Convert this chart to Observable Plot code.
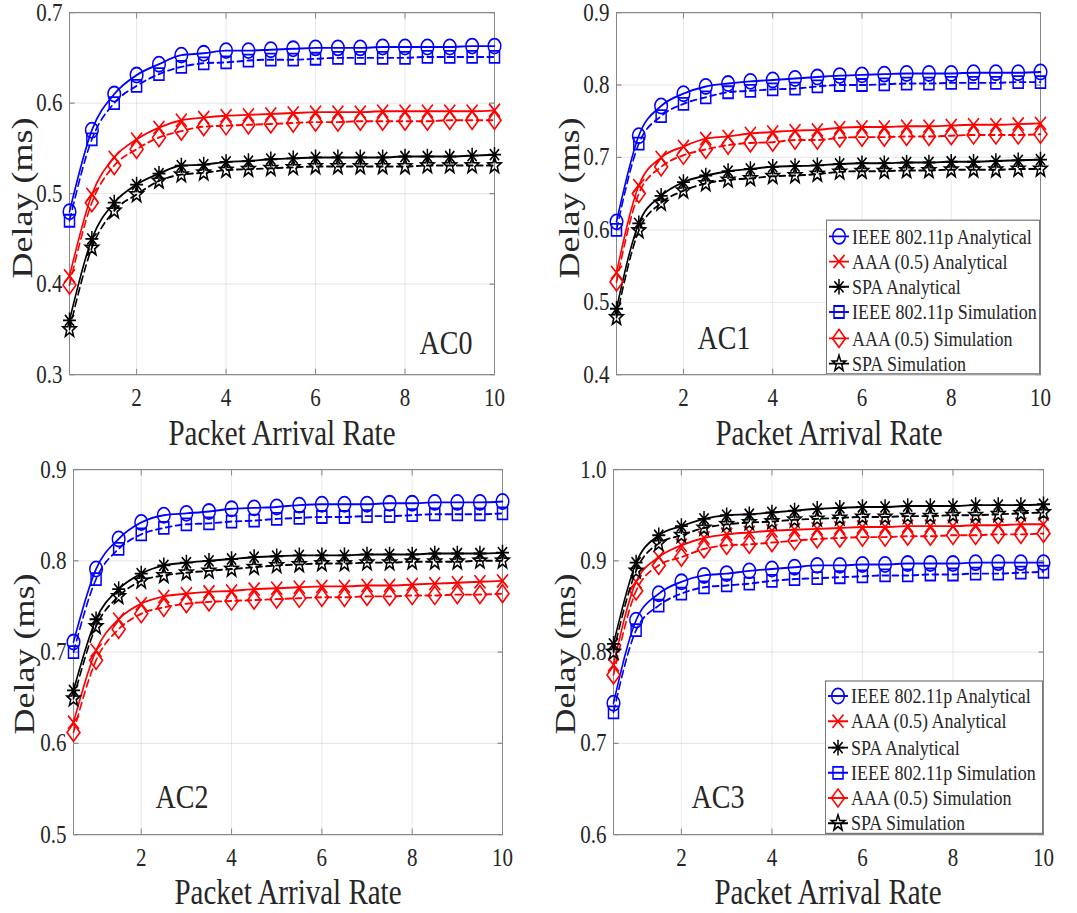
<!DOCTYPE html>
<html><head><meta charset="utf-8">
<script src="https://cdn.jsdelivr.net/npm/d3@7"></script>
<script src="https://cdn.jsdelivr.net/npm/@observablehq/plot@0.6"></script>
<style>
html,body{margin:0;padding:0;background:#fff;}
#fig{position:absolute;left:0;top:0;width:1077px;height:761px;transform:scaleY(1.2);transform-origin:0 0;font-family:"Liberation Serif","Times New Roman",serif;color:#262626;}
.panel{position:absolute;}
#fig svg text{font-family:"Liberation Serif","Times New Roman",serif;font-size:21px;}
.lbl{position:absolute;white-space:nowrap;transform:translate(-50%,-50%);line-height:1;font-family:"Liberation Serif","Times New Roman",serif;}
.xl{font-size:29px;}
.yl{font-size:30px;transform:translate(-50%,-50%) rotate(-90deg);}
.ac{font-size:28px;}
.legend{position:absolute;background:#fff;border:1px solid #777;box-sizing:border-box;}
.row{position:absolute;left:0;height:20px;display:flex;align-items:center;font-size:18px;white-space:nowrap;line-height:1;font-family:"Liberation Serif","Times New Roman",serif;}
.row svg{flex:none;}
</style></head>
<body><div id="fig"></div>
<script>
// ---------- data ----------
const rates = [0.5,1,1.5,2,2.5,3,3.5,4,4.5,5,5.5,6,6.5,7,7.5,8,8.5,9,9.5,10];
const xTicks = [2,4,6,8,10];
const seriesNames = ["IEEE 802.11p Analytical","AAA (0.5) Analytical","SPA Analytical","IEEE 802.11p Simulation","AAA (0.5) Simulation","SPA Simulation"];
const panelTitles = ["AC0","AC1","AC2","AC3"];
const xLabel = "Packet Arrival Rate";
const yLabel = "Delay (ms)";

const ac0YTicks = [0.3,0.4,0.5,0.6,0.7];
const ac1YTicks = [0.4,0.5,0.6,0.7,0.8,0.9];
const ac2YTicks = [0.5,0.6,0.7,0.8,0.9];
const ac3YTicks = [0.6,0.7,0.8,0.9,1.0];

const ac0IeeeA = [0.480,0.570,0.610,0.631,0.643,0.653,0.655,0.658,0.658,0.659,0.660,0.661,0.661,0.661,0.662,0.662,0.662,0.662,0.663,0.663];
const ac0AaaA  = [0.409,0.499,0.540,0.560,0.573,0.581,0.584,0.586,0.587,0.588,0.589,0.590,0.590,0.590,0.591,0.591,0.591,0.591,0.591,0.592];
const ac0SpaA  = [0.360,0.450,0.490,0.510,0.522,0.531,0.532,0.535,0.536,0.538,0.539,0.540,0.540,0.540,0.540,0.541,0.541,0.541,0.542,0.543];
const ac0IeeeS = [0.470,0.560,0.600,0.619,0.632,0.640,0.644,0.645,0.647,0.648,0.648,0.649,0.650,0.650,0.650,0.650,0.651,0.651,0.651,0.651];
const ac0AaaS  = [0.399,0.490,0.531,0.549,0.562,0.569,0.574,0.575,0.576,0.577,0.578,0.579,0.579,0.580,0.580,0.580,0.580,0.581,0.581,0.581];
const ac0SpaS  = [0.350,0.440,0.481,0.499,0.514,0.521,0.523,0.526,0.527,0.528,0.529,0.530,0.530,0.530,0.530,0.530,0.531,0.531,0.531,0.531];

const ac1IeeeA = [0.611,0.730,0.771,0.788,0.798,0.802,0.805,0.807,0.809,0.811,0.813,0.814,0.815,0.816,0.816,0.816,0.817,0.817,0.817,0.818];
const ac1AaaA  = [0.541,0.661,0.700,0.715,0.726,0.729,0.733,0.735,0.737,0.738,0.741,0.742,0.742,0.743,0.743,0.744,0.745,0.745,0.746,0.747];
const ac1SpaA  = [0.491,0.609,0.647,0.666,0.675,0.681,0.684,0.687,0.688,0.689,0.691,0.692,0.692,0.693,0.693,0.694,0.694,0.695,0.696,0.697];
const ac1IeeeS = [0.600,0.719,0.757,0.774,0.783,0.790,0.792,0.794,0.795,0.798,0.800,0.800,0.801,0.802,0.802,0.803,0.803,0.803,0.804,0.804];
const ac1AaaS  = [0.528,0.650,0.687,0.703,0.711,0.717,0.720,0.721,0.724,0.724,0.727,0.728,0.728,0.729,0.729,0.730,0.731,0.731,0.731,0.732];
const ac1SpaS  = [0.479,0.599,0.637,0.654,0.664,0.669,0.671,0.674,0.675,0.677,0.680,0.681,0.681,0.682,0.682,0.683,0.683,0.683,0.684,0.684];

const ac2IeeeA = [0.711,0.791,0.824,0.842,0.850,0.852,0.854,0.857,0.858,0.859,0.861,0.862,0.862,0.862,0.863,0.863,0.864,0.864,0.864,0.865];
const ac2AaaA  = [0.623,0.702,0.736,0.753,0.761,0.764,0.766,0.767,0.769,0.770,0.771,0.772,0.772,0.773,0.773,0.774,0.775,0.776,0.777,0.778];
const ac2SpaA  = [0.658,0.736,0.769,0.786,0.795,0.798,0.800,0.802,0.804,0.805,0.806,0.806,0.806,0.807,0.807,0.807,0.808,0.808,0.808,0.809];
const ac2IeeeS = [0.700,0.780,0.813,0.829,0.836,0.840,0.841,0.843,0.844,0.846,0.847,0.848,0.848,0.849,0.849,0.850,0.851,0.851,0.851,0.852];
const ac2AaaS  = [0.612,0.691,0.725,0.742,0.749,0.753,0.755,0.756,0.757,0.758,0.759,0.760,0.760,0.761,0.761,0.762,0.762,0.763,0.763,0.764];
const ac2SpaS  = [0.649,0.728,0.761,0.778,0.784,0.787,0.789,0.791,0.793,0.795,0.796,0.797,0.797,0.798,0.798,0.799,0.799,0.799,0.800,0.800];

const ac3IeeeA = [0.744,0.835,0.864,0.877,0.884,0.886,0.889,0.891,0.893,0.895,0.895,0.896,0.896,0.897,0.897,0.897,0.898,0.898,0.898,0.898];
const ac3AaaA  = [0.786,0.877,0.904,0.917,0.925,0.929,0.931,0.933,0.934,0.935,0.936,0.937,0.937,0.938,0.938,0.938,0.939,0.939,0.940,0.940];
const ac3SpaA  = [0.809,0.898,0.928,0.938,0.946,0.950,0.951,0.953,0.955,0.957,0.958,0.959,0.959,0.960,0.960,0.960,0.961,0.961,0.961,0.962];
const ac3IeeeS = [0.734,0.824,0.851,0.864,0.871,0.873,0.875,0.878,0.880,0.881,0.882,0.883,0.884,0.884,0.885,0.885,0.886,0.886,0.887,0.888];
const ac3AaaS  = [0.775,0.867,0.895,0.904,0.913,0.917,0.918,0.920,0.922,0.924,0.925,0.926,0.926,0.927,0.927,0.928,0.928,0.929,0.929,0.930];
const ac3SpaS  = [0.800,0.889,0.919,0.928,0.936,0.940,0.942,0.943,0.945,0.946,0.947,0.948,0.948,0.949,0.949,0.950,0.950,0.951,0.952,0.953];

// ---------- styles ----------
const symCircle = {draw(c){c.moveTo(6.3,0);c.arc(0,0,6.3,0,2*Math.PI);}};
const symTimes = {draw(c){c.moveTo(-5.5,-5.5);c.lineTo(5.5,5.5);c.moveTo(-5.5,5.5);c.lineTo(5.5,-5.5);}};
const symAst = {draw(c){const r=6.5,d=4.6;c.moveTo(0,-r);c.lineTo(0,r);c.moveTo(-r,0);c.lineTo(r,0);c.moveTo(-d,-d);c.lineTo(d,d);c.moveTo(-d,d);c.lineTo(d,-d);}};
const symSquare = {draw(c){c.moveTo(-5,-5);c.lineTo(5,-5);c.lineTo(5,5);c.lineTo(-5,5);c.closePath();}};
const symDiamond = {draw(c){c.moveTo(0,-7.5);c.lineTo(6.5,0);c.lineTo(0,7.5);c.lineTo(-6.5,0);c.closePath();}};
const symStar = {draw(c){const R=7,r=2.9;for(let i=0;i<10;i++){const a=-Math.PI/2+i*Math.PI/5,rr=i%2?r:R;const px=rr*Math.cos(a),py=rr*Math.sin(a);i?c.lineTo(px,py):c.moveTo(px,py);}c.closePath();}};
const tickL = {draw(c){c.moveTo(0,0);c.lineTo(5,0);}};
const tickR = {draw(c){c.moveTo(0,0);c.lineTo(-5,0);}};
const tickB = {draw(c){c.moveTo(0,0);c.lineTo(0,-5);}};
const tickT = {draw(c){c.moveTo(0,0);c.lineTo(0,5);}};
const frameColor = "#888";

const seriesStyle = [
  {color:"#0000ff", symbol:symCircle, dash:null},
  {color:"#ff0000", symbol:symTimes, dash:null},
  {color:"#000000", symbol:symAst, dash:null},
  {color:"#0000ff", symbol:symSquare, dash:"6,4"},
  {color:"#ff0000", symbol:symDiamond, dash:"6,4"},
  {color:"#000000", symbol:symStar, dash:"6,4"}
];

const panels = [
  {series:[ac0IeeeA,ac0AaaA,ac0SpaA,ac0IeeeS,ac0AaaS,ac0SpaS], yTicks:ac0YTicks,
   left:0, top:0, width:538, height:375, ml:69, mr:44, mt:10, mb:63.3, ac:[446,286], xl:[282,361], yl:[22,164.5], legend:null},
  {series:[ac1IeeeA,ac1AaaA,ac1SpaA,ac1IeeeS,ac1AaaS,ac1SpaS], yTicks:ac1YTicks,
   left:537, top:0, width:540, height:375, ml:79, mr:37, mt:10, mb:63.3, ac:[724,282], xl:[829,361], yl:[569,164.5], legend:{left:826, top:183.3, width:214, height:128.4}},
  {series:[ac2IeeeA,ac2AaaA,ac2SpaA,ac2IeeeS,ac2AaaS,ac2SpaS], yTicks:ac2YTicks,
   left:0, top:375, width:538, height:386, ml:73, mr:36, mt:15.8, mb:66, ac:[182,664], xl:[288,744], yl:[24,545], legend:null},
  {series:[ac3IeeeA,ac3AaaA,ac3SpaA,ac3IeeeS,ac3AaaS,ac3SpaS], yTicks:ac3YTicks,
   left:537, top:375, width:540, height:386, ml:76, mr:34, mt:15.8, mb:66, ac:[718,664], xl:[828,744], yl:[565,545], legend:{left:825, top:566.7, width:218, height:128.3}}
];

const fig = document.getElementById("fig");
function addLabel(text, cls, pos){
  const d = document.createElement("div");
  d.className = "lbl " + cls; d.textContent = text;
  d.style.left = pos[0] + "px"; d.style.top = pos[1] + "px";
  fig.appendChild(d);
}

panels.forEach((p, pi) => {
  const marks = [];
  marks.push(Plot.frame({stroke:frameColor}));
  marks.push(Plot.dot(p.yTicks, {y:d=>d, frameAnchor:"left", symbol:tickL, stroke:frameColor, strokeWidth:1}));
  marks.push(Plot.dot(p.yTicks, {y:d=>d, frameAnchor:"right", symbol:tickR, stroke:frameColor, strokeWidth:1}));
  marks.push(Plot.dot(xTicks, {x:d=>d, frameAnchor:"bottom", symbol:tickB, stroke:frameColor, strokeWidth:1}));
  marks.push(Plot.dot(xTicks, {x:d=>d, frameAnchor:"top", symbol:tickT, stroke:frameColor, strokeWidth:1}));
  p.series.forEach((vals, k) => {
    const st = seriesStyle[k];
    const rows = rates.map((x, i) => ({x, y: vals[i]}));
    marks.push(Plot.line(rows, {x:"x", y:"y", stroke:st.color, strokeWidth:1.6, curve:"monotone-x", strokeDasharray: st.dash || undefined}));
    marks.push(Plot.dot(rows, {x:"x", y:"y", symbol:st.symbol, stroke:st.color, fill:"none", strokeWidth:1.5}));
  });
  const svg = Plot.plot({
    width:p.width, height:p.height,
    marginLeft:p.ml, marginRight:p.mr, marginTop:p.mt, marginBottom:p.mb,
    style:{fontFamily:"Liberation Serif", fontSize:"21px", color:"#262626", background:"transparent", overflow:"visible"},
    x:{domain:[0.5,10], ticks:xTicks, label:null, tickSize:0, tickPadding:11, grid:true},
    y:{domain:[p.yTicks[0], p.yTicks[p.yTicks.length-1]], ticks:p.yTicks, tickFormat:".1f", label:null, tickSize:0, tickPadding:7, grid:true},
    marks
  });
  const wrap = document.createElement("div");
  wrap.className = "panel";
  wrap.style.left = p.left + "px"; wrap.style.top = p.top + "px";
  wrap.appendChild(svg);
  fig.appendChild(wrap);

  addLabel(panelTitles[pi], "ac", p.ac);
  addLabel(xLabel, "xl", p.xl);
  addLabel(yLabel, "yl", p.yl);

  if (p.legend) {
    const L = document.createElement("div");
    L.className = "legend";
    Object.assign(L.style, {left:p.legend.left+"px", top:p.legend.top+"px", width:p.legend.width+"px", height:p.legend.height+"px"});
    seriesNames.forEach((name, k) => {
      const st = seriesStyle[k];
      const row = document.createElement("div");
      row.className = "row";
      row.style.top = (12.6 + k*21.2 - 10) + "px";
      const path = d3.path(); st.symbol.draw(path);
      const s = d3.create("svg").attr("width",25).attr("height",20);
      s.append("line").attr("x1",2).attr("x2",22).attr("y1",10).attr("y2",10).attr("stroke",st.color).attr("stroke-width",1.6);
      s.append("path").attr("d",path.toString()).attr("transform","translate(12,10)").attr("fill","none").attr("stroke",st.color).attr("stroke-width",1.5);
      row.appendChild(s.node());
      const t = document.createElement("span");
      t.textContent = name;
      row.appendChild(t);
      L.appendChild(row);
    });
    fig.appendChild(L);
  }
});
</script>
</body></html>
